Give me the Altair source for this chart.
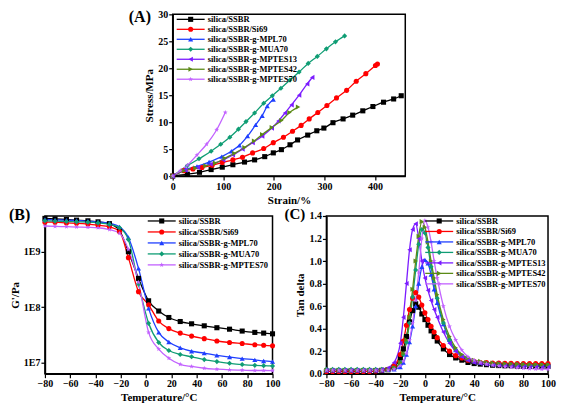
import altair as alt
import pandas as pd

FONT = "Liberation Serif"

series_names = ["silica/SSBR", "silica/SSBR/Si69", "silica/SSBR-g-MPL70", "silica/SSBR-g-MUA70",
                "silica/SSBR-g-MPTES13", "silica/SSBR-g-MPTES42", "silica/SSBR-g-MPTES70"]
series_colors = ["#000000", "#ff0000", "#1f3fff", "#0f9d74", "#7b1cff", "#5b8a16", "#c262ff"]
STAR = "M0,-1L0.24,-0.33L0.95,-0.31L0.38,0.12L0.59,0.81L0,0.4L-0.59,0.81L-0.38,0.12L-0.95,-0.31L-0.24,-0.33Z"
series_shapes = ["square", "circle", "triangle-up", "diamond", "triangle-left", "triangle-right", STAR]

# ---------------- Panel A: stress-strain ----------------
a_ssbr_x = [0, 29, 53, 76, 98, 119, 142, 162, 182, 199, 215, 232, 247, 267, 285, 299, 317, 337, 356, 376, 396, 417, 437, 452]
a_ssbr_y = [0, 0.35, 0.7, 1.2, 1.65, 2.1, 2.6, 3.0, 3.6, 4.3, 4.9, 5.8, 6.7, 7.6, 8.4, 8.9, 9.9, 10.6, 11.3, 12.1, 12.9, 13.7, 14.3, 14.9]
a_si69_x = [0, 22, 40, 58, 78, 98, 119, 138, 158, 180, 199, 219, 237, 254, 270, 287, 305, 324, 344, 363, 382, 401, 405]
a_si69_y = [0, 1.0, 1.3, 1.6, 2.0, 2.5, 3.0, 3.5, 4.3, 5.1, 6.2, 7.2, 8.3, 9.4, 10.6, 11.8, 13.1, 14.5, 15.9, 17.6, 19.0, 20.5, 20.8]
a_mpl70_x = [0, 25, 48, 72, 97, 116, 132, 148, 164, 177, 187, 199]
a_mpl70_y = [0, 1.2, 1.8, 2.6, 3.6, 4.6, 5.7, 7.4, 9.5, 11.2, 13.0, 14.2]
a_mua70_x = [0, 29, 52, 76, 95, 113, 130, 145, 162, 180, 197, 214, 232, 250, 268, 286, 304, 322, 340]
a_mua70_y = [0, 1.9, 3.2, 4.6, 5.9, 7.2, 8.7, 10.1, 11.7, 13.5, 14.9, 16.3, 17.8, 19.3, 20.9, 22.2, 23.6, 24.9, 26.0]
a_mptes13_x = [0, 25, 50, 75, 100, 119, 138, 158, 177, 196, 209, 222, 235, 250, 266, 276]
a_mptes13_y = [0, 1.1, 1.6, 2.2, 3.0, 3.9, 5.0, 6.2, 7.4, 8.9, 10.2, 11.7, 13.2, 15.0, 17.1, 18.3]
a_mptes42_x = [0, 22, 45, 65, 84, 103, 122, 142, 161, 177, 196, 215, 231, 248]
a_mptes42_y = [0, 1.0, 1.5, 1.9, 2.4, 3.3, 4.2, 5.3, 6.5, 7.7, 9.0, 10.3, 11.8, 12.8]
a_mptes70_x = [0, 15, 29, 48, 67, 87, 104]
a_mptes70_y = [0, 1.0, 2.0, 3.9, 5.9, 8.6, 11.8]

# ---------------- Panel B: storage modulus ----------------
b_names = ["silica/SSBR", "silica/SSBR/Si69", "silica/SSBR-g-MPL70", "silica/SSBR-g-MUA70", "silica/SSBR-g-MPTES70"]
temp_b = [-80, -72, -63, -55, -46, -38, -29, -21, -14, -6, 2, 10, 18, 27, 36, 46, 56, 66, 76, 86, 93, 100]
b_ssbr = [3.98e9, 3.9e9, 3.8e9, 3.7e9, 3.6e9, 3.45e9, 3.2e9, 2.4e9, 1.0e9, 3.3e8, 1.3e8, 8.5e7, 6.5e7, 5.5e7, 5.0e7, 4.6e7, 4.25e7, 4.0e7, 3.7e7, 3.5e7, 3.4e7, 3.3e7]
b_si69 = [3.4e9, 3.4e9, 3.3e9, 3.25e9, 3.15e9, 3.0e9, 2.8e9, 2.3e9, 7.8e8, 1.9e8, 1.1e8, 5.6e7, 4.1e7, 3.4e7, 3.0e7, 2.7e7, 2.45e7, 2.3e7, 2.2e7, 2.1e7, 2.05e7, 2.0e7]
b_mpl70 = [3.8e9, 3.75e9, 3.7e9, 3.65e9, 3.55e9, 3.45e9, 3.25e9, 2.8e9, 1.8e9, 5.0e8, 9.5e7, 3.5e7, 2.35e7, 1.85e7, 1.6e7, 1.48e7, 1.35e7, 1.26e7, 1.18e7, 1.12e7, 1.07e7, 1.04e7]
b_mua70 = [3.6e9, 3.55e9, 3.5e9, 3.45e9, 3.4e9, 3.3e9, 3.1e9, 2.7e9, 1.65e9, 2.6e8, 5.1e7, 2.3e7, 1.65e7, 1.4e7, 1.27e7, 1.13e7, 1.04e7, 9.7e6, 9.2e6, 8.9e6, 8.8e6, 8.7e6]
b_mptes70 = [2.9e9, 2.85e9, 2.82e9, 2.78e9, 2.75e9, 2.7e9, 2.5e9, 2.15e9, 1.1e9, 2.8e8, 3.5e7, 1.75e7, 1.2e7, 9.3e6, 8.5e6, 7.9e6, 7.6e6, 7.4e6, 7.3e6, 7.2e6, 7.2e6, 7.15e6]

# ---------------- Panel C: tan delta ----------------
temp_c = [-80, -75, -70, -65, -60, -55, -50, -45, -40, -35, -30, -25,
          -20, -17.5, -15, -12.5, -10, -7.5, -5, -2.5, 0, 2.5, 5, 7.5, 10,
          15, 20, 25, 30, 35, 40, 45, 50, 55, 60, 65, 70, 75, 80, 85, 90, 95, 100]
c_ssbr = [0.02, 0.02, 0.02, 0.02, 0.02, 0.02, 0.02, 0.02, 0.025, 0.03, 0.035, 0.06,
          0.14, 0.22, 0.33, 0.46, 0.56, 0.62, 0.59, 0.53, 0.48, 0.43, 0.38, 0.33, 0.29,
          0.22, 0.17, 0.14, 0.12, 0.10, 0.09, 0.085, 0.08, 0.075, 0.072, 0.07, 0.07, 0.068, 0.068, 0.066, 0.066, 0.065, 0.065]
c_si69 = [0.02, 0.02, 0.02, 0.02, 0.02, 0.02, 0.02, 0.02, 0.025, 0.03, 0.04, 0.07,
          0.17, 0.29, 0.43, 0.57, 0.67, 0.72, 0.68, 0.61, 0.54, 0.48, 0.42, 0.37, 0.32,
          0.25, 0.20, 0.16, 0.14, 0.12, 0.11, 0.10, 0.10, 0.095, 0.095, 0.092, 0.092, 0.09, 0.09, 0.09, 0.09, 0.09, 0.09]
c_mpl70 = [0.03, 0.03, 0.03, 0.03, 0.03, 0.03, 0.03, 0.03, 0.03, 0.03, 0.035, 0.04,
           0.06, 0.10, 0.17, 0.28, 0.42, 0.60, 0.80, 0.95, 1.01, 0.98, 0.88, 0.75, 0.63,
           0.44, 0.30, 0.21, 0.16, 0.13, 0.11, 0.10, 0.095, 0.09, 0.09, 0.085, 0.085, 0.082, 0.082, 0.08, 0.08, 0.08, 0.08]
c_mua70 = [0.04, 0.04, 0.04, 0.04, 0.04, 0.04, 0.04, 0.04, 0.04, 0.04, 0.04, 0.05,
           0.10, 0.17, 0.28, 0.45, 0.68, 0.92, 1.15, 1.28, 1.25, 1.12, 0.95, 0.80, 0.67,
           0.45, 0.30, 0.21, 0.16, 0.13, 0.11, 0.10, 0.09, 0.085, 0.08, 0.08, 0.078, 0.078, 0.076, 0.076, 0.075, 0.075, 0.075]
c_mptes13 = [0.03, 0.03, 0.03, 0.03, 0.03, 0.03, 0.03, 0.03, 0.03, 0.035, 0.05, 0.10,
             0.27, 0.50, 0.80, 1.10, 1.28, 1.33, 1.20, 1.00, 0.85, 0.74, 0.65, 0.57, 0.50,
             0.37, 0.27, 0.20, 0.15, 0.12, 0.10, 0.09, 0.085, 0.08, 0.078, 0.075, 0.072, 0.07, 0.068, 0.066, 0.065, 0.064, 0.063]
c_mptes42 = [0.03, 0.03, 0.03, 0.03, 0.03, 0.03, 0.03, 0.03, 0.03, 0.03, 0.035, 0.05,
             0.10, 0.18, 0.30, 0.50, 0.75, 1.00, 1.22, 1.35, 1.30, 1.17, 1.00, 0.85, 0.70,
             0.48, 0.33, 0.23, 0.17, 0.14, 0.12, 0.11, 0.10, 0.095, 0.09, 0.088, 0.085, 0.083, 0.082, 0.08, 0.08, 0.08, 0.08]
c_mptes70 = [0.03, 0.03, 0.03, 0.03, 0.03, 0.03, 0.03, 0.03, 0.03, 0.03, 0.03, 0.04,
             0.07, 0.11, 0.18, 0.30, 0.45, 0.65, 0.90, 1.20, 1.36, 1.30, 1.17, 1.00, 0.85,
             0.60, 0.42, 0.30, 0.21, 0.15, 0.12, 0.10, 0.085, 0.075, 0.068, 0.062, 0.057, 0.052, 0.048, 0.045, 0.042, 0.04, 0.04]

color_enc = alt.Color("series:N", scale=alt.Scale(domain=series_names, range=series_colors), legend=None)
shape_enc = alt.Shape("series:N", scale=alt.Scale(domain=series_names, range=series_shapes), legend=None)

MSIZE = 26


def long_df(names, xs_list, ys_list):
    rows = []
    for name, xs, ys in zip(names, xs_list, ys_list):
        assert len(xs) == len(ys), name
        for x, y in zip(xs, ys):
            rows.append({"series": name, "x": x, "y": y})
    return pd.DataFrame(rows)


def panel(df, names, X, Y, width, height, letter, letter_x, letter_y, letter_size,
          leg_x0, leg_y0, leg_dy, leg_len=28):
    base = alt.Chart(df)
    lines = base.mark_line(strokeWidth=1.3, interpolate="monotone").encode(
        x=X, y=Y, color=color_enc, detail="series:N")
    pts = base.mark_point(filled=True, size=MSIZE, opacity=1, strokeWidth=0).encode(
        x=X, y=Y, color=color_enc, shape=shape_enc)
    leg = pd.DataFrame({"series": names, "idx": list(range(len(names)))})
    LY = alt.Y("idx:O", axis=None,
               scale=alt.Scale(type="point", range=[leg_y0, leg_y0 + leg_dy * (len(names) - 1)], padding=0))
    lb = alt.Chart(leg)
    lrule = lb.mark_rule(strokeWidth=1.3).encode(
        x=alt.value(leg_x0), x2=alt.value(leg_x0 + leg_len), y=LY, color=color_enc)
    lpts = lb.mark_point(filled=True, size=MSIZE, opacity=1, strokeWidth=0).encode(
        x=alt.value(leg_x0 + leg_len / 2), y=LY, color=color_enc, shape=shape_enc)
    ltext = lb.mark_text(align="left", baseline="middle", font=FONT, fontWeight="bold",
                         fontSize=8.5, color="black").encode(
        x=alt.value(leg_x0 + leg_len + 3), y=LY, text="series:N")
    lab = alt.Chart(pd.DataFrame({"t": [letter]})).mark_text(
        align="left", baseline="middle", font=FONT, fontWeight="bold", fontSize=letter_size, color="black"
    ).encode(x=alt.value(letter_x), y=alt.value(letter_y), text="t:N")
    return alt.layer(alt.layer(lines, pts), alt.layer(lrule, lpts, ltext), lab).resolve_scale(
        y="independent").properties(width=width, height=height)


# Panel A
df_a = long_df(series_names,
               [a_ssbr_x, a_si69_x, a_mpl70_x, a_mua70_x, a_mptes13_x, a_mptes42_x, a_mptes70_x],
               [a_ssbr_y, a_si69_y, a_mpl70_y, a_mua70_y, a_mptes13_y, a_mptes42_y, a_mptes70_y])
XA = alt.X("x:Q", scale=alt.Scale(domain=[0, 460], nice=False),
           axis=alt.Axis(values=[0, 100, 200, 300, 400], title="Strain/%"))
YA = alt.Y("y:Q", scale=alt.Scale(domain=[0, 30], nice=False),
           axis=alt.Axis(values=[0, 5, 10, 15, 20, 25, 30], title="Stress/MPa"))
WA, HA = 233, 162
chart_a = panel(df_a, series_names, XA, YA, WA, HA, "(A)", -44, 3, 16, 4, 5, 10)

# Panel B
df_b = long_df(b_names, [temp_b] * 5, [b_ssbr, b_si69, b_mpl70, b_mua70, b_mptes70])
XB = alt.X("x:Q", scale=alt.Scale(domain=[-80, 100], nice=False),
           axis=alt.Axis(values=[-80, -60, -40, -20, 0, 20, 40, 60, 80, 100], title="Temperature/\u00b0C"))
YB = alt.Y("y:Q", scale=alt.Scale(type="log", domain=[6.3e6, 4.4e9], nice=False),
           axis=alt.Axis(values=[1e7, 1e8, 1e9], title="G'/Pa",
                         labelExpr="'1E' + round(log(datum.value) / LN10)"))
WB, HB = 228, 158
chart_b = panel(df_b, b_names, XB, YB, WB, HB, "(B)", -36, -1, 16, WB - 125, 5, 11)

# Panel C
df_c = long_df(series_names, [temp_c] * 7,
               [c_ssbr, c_si69, c_mpl70, c_mua70, c_mptes13, c_mptes42, c_mptes70])
XC = alt.X("x:Q", scale=alt.Scale(domain=[-80, 100], nice=False),
           axis=alt.Axis(values=[-80, -60, -40, -20, 0, 20, 40, 60, 80, 100], title="Temperature/\u00b0C"))
YC = alt.Y("y:Q", scale=alt.Scale(domain=[0, 1.4], nice=False),
           axis=alt.Axis(values=[0, 0.2, 0.4, 0.6, 0.8, 1.0, 1.2, 1.4], format=".1f", title="Tan delta"))
WC, HC = 222, 158
chart_c = panel(df_c, series_names, XC, YC, WC, HC, "(C)", -42, -2, 15, WC - 123, 5, 10.5)

spacer = alt.Chart(pd.DataFrame({"s": [0]})).mark_point(opacity=0).encode(
    x=alt.value(0), y=alt.value(0)).properties(width=83, height=10,
                                               view=alt.ViewBackground(strokeOpacity=0))

top = alt.hconcat(spacer, chart_a, spacing=0)
bottom = alt.hconcat(chart_b, chart_c, spacing=2)

chart = alt.vconcat(top, bottom, spacing=0).properties(
    padding=0, background="white"
).configure_view(
    stroke="black", strokeWidth=1.5
).configure_axis(
    labelFont=FONT, labelFontSize=10, labelFontWeight="bold", labelColor="black",
    titleFont=FONT, titleFontSize=11, titleFontWeight="bold", titleColor="black",
    tickColor="black", tickSize=4, tickWidth=1.2, domainColor="black", domainWidth=1.5,
    grid=False, labelPadding=1, titlePadding=3
).configure_axisX(labelFlush=False)

chart.save("out.html", embed_options={"renderer": "svg", "actions": False})
